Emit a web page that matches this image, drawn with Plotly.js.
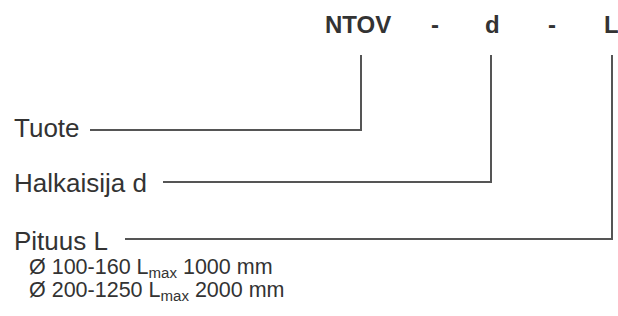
<!DOCTYPE html>
<html>
<head>
<meta charset="utf-8">
<script src="https://cdn.plot.ly/plotly-3.0.1.min.js"></script>
<style>html,body{margin:0;padding:0;background:#fff;}#chart{width:618px;height:316px;}</style>
</head>
<body>
<div id="chart"></div>
<script>
// Code parts shown at the top
const codeParts = ["NTOV", "-", "d", "-", "L"];
// Labels of the code parts
const partLabels = ["Tuote", "Halkaisija d", "Pituus L"];
// Notes under the length label
const noteLines = ["Ø 100-160 L<sub>max</sub> 1000 mm", "Ø 200-1250 L<sub>max</sub> 2000 mm"];

const TXT = "#333333";
const LINE = "#555555";
const FONT = "Liberation Sans, Arial, Helvetica, sans-serif";

// layout geometry (pixels, y down)
const codeX = [357.5, 435, 492, 552, 611];
const codeY = 24;
const labelY = [128, 183, 241];
const lineStartX = [90, 163, 125];
const lineY = [130, 182, 239];
const lineEndX = [361, 491, 612];
const lineTopY = 55;
const noteY = [268, 291];

const traces = partLabels.map((lab, i) => ({
  type: "scatter", mode: "lines",
  x: [lineStartX[i], lineEndX[i], lineEndX[i]],
  y: [lineY[i], lineY[i], lineTopY],
  line: {color: LINE, width: 2},
  hoverinfo: "skip", showlegend: false
}));

const annotations = [];
codeParts.forEach((t, i) => annotations.push({
  x: codeX[i], y: codeY, xref: "x", yref: "y", text: "<b>" + t + "</b>",
  showarrow: false, xanchor: "center", yanchor: "middle",
  font: {family: FONT, size: 24, color: TXT}
}));
partLabels.forEach((t, i) => annotations.push({
  x: 12, y: labelY[i], xref: "x", yref: "y", text: t,
  showarrow: false, xanchor: "left", yanchor: "middle",
  font: {family: FONT, size: 26, color: TXT}
}));
noteLines.forEach((t, i) => annotations.push({
  x: 27, y: noteY[i], xref: "x", yref: "y", text: t,
  showarrow: false, xanchor: "left", yanchor: "middle",
  height: 22, valign: "middle",
  font: {family: FONT, size: 21.5, color: TXT}
}));

Plotly.newPlot("chart", traces, {
  width: 618, height: 316,
  margin: {l: 0, r: 0, t: 0, b: 0, pad: 0},
  paper_bgcolor: "#fff", plot_bgcolor: "#fff",
  xaxis: {range: [0, 618], visible: false, fixedrange: true},
  yaxis: {range: [316, 0], visible: false, fixedrange: true},
  showlegend: false,
  annotations: annotations
}, {staticPlot: true, displayModeBar: false});
</script>
</body>
</html>
